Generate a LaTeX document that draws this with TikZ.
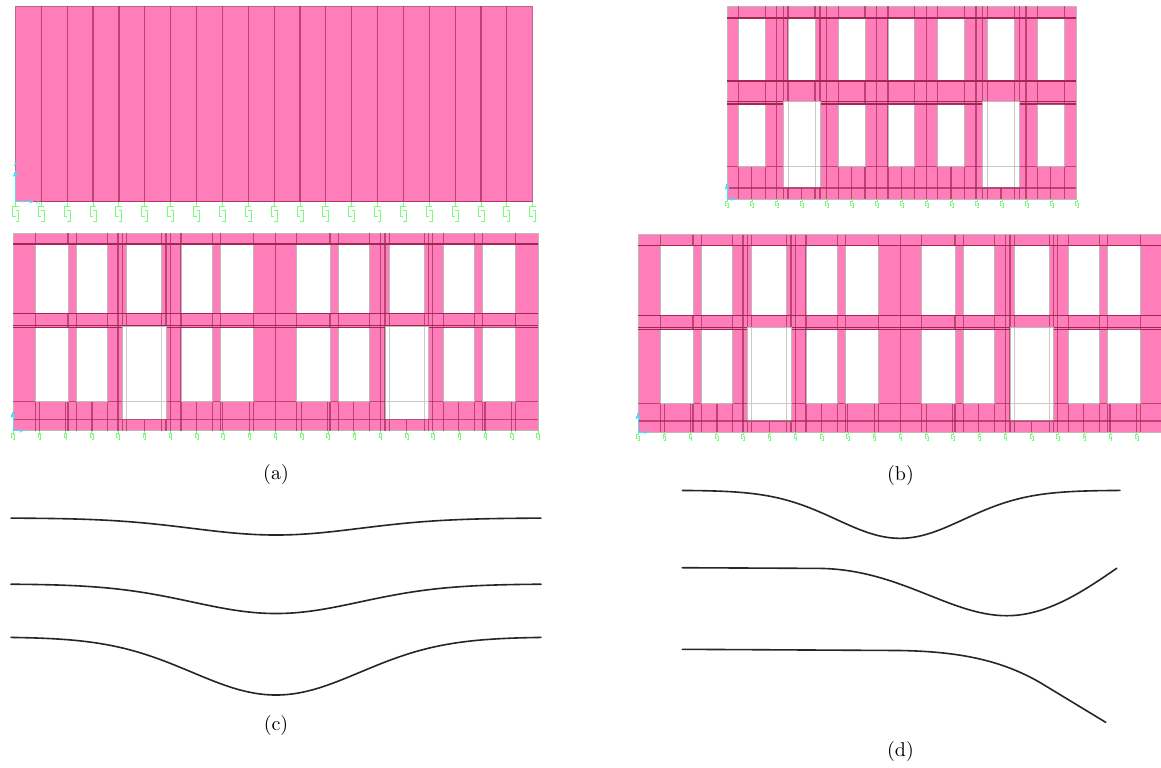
\documentclass[tikz,border=0pt]{standalone}
\usepackage{amsmath,amssymb}
\usetikzlibrary{calc}
\usetikzlibrary{arrows.meta}
\definecolor{wallpink}{RGB}{255,125,184}
\definecolor{gridred}{RGB}{160,40,85}
\definecolor{edgegrey}{RGB}{190,185,185}
\definecolor{springgreen}{RGB}{125,250,125}
\definecolor{axiscyan}{RGB}{85,215,245}
\tikzset{
  wallfill/.style={fill=wallpink,draw=edgegrey,line width=0.5pt},
  gridln/.style={draw=gridred,opacity=0.68,line width=0.6pt},
  openln/.style={draw=edgegrey,fill=white,line width=0.42pt},
  doorln/.style={draw=edgegrey,opacity=0.75,line width=0.5pt},
  springln/.style={draw=springgreen,line width=0.45pt},
  axisln/.style={draw=axiscyan,line width=0.45pt,-{Stealth[length=2.5pt,width=1.8pt]}},
  curveln/.style={draw=black!85,line width=0.8pt,line cap=round},
  caption/.style={inner sep=0pt,font=\normalsize},
  axislabl/.style={inner sep=0pt,text=axiscyan,font=\fontsize{4.5}{5}\selectfont\sffamily}
}
\newcommand{\windowcell}[4]{\draw[openln] ( #1 , #2 ) rectangle ( #3 , #4 );}
\newcommand{\springmark}[3]{\draw[springln,shift={( #1 , #2 )},scale=#3] (0,0) -- (0,5) (3,5) -- (-3,5) -- (-3,15) -- (0,15) (0,9) -- (3,9) -- (3,20) -- (0,20);}
\newcommand{\sagcurve}[4]{\draw[curveln] plot[domain=#1:#2,samples=90,smooth] (\x,{#3+#4*exp(-((\x-276)/119)^2)});}
% long wall, drawn in the place of the lower wall of (a)
\newcommand{\longwall}{
  \draw[wallfill] (13,233) rectangle (538,430.7);
  % full height lines
  \foreach \xx in {35.3,68,76.3,107.3,118,122.7,126.7,161.7,166,170.7,181,212.3,220.7,253.7,275.7,296.7,330,338.7,369.3,380.3,385,389.3,424.3,428.3,432.7,443.3,474.3,482.7,515.7}
    \draw[gridln] (\xx,233) -- (\xx,430.7);
  \draw[gridln] (13,401.7) -- (538,401.7);
  % short lines under the sills
  \foreach \xx in {39.3,65.3,92,196.7,222.7,249.3,301.3,327.7,353.7,458.3,485,511.3}
    \draw[gridln] (\xx,401.7) -- (\xx,430.7);
  \foreach \xx in {144.3,406.3}
    \draw[gridln] (\xx,419.5) -- (\xx,430.7);
  % upper row
  \foreach \xa/\xb in {35.3/68,76.3/107.3,126.7/161.7,181/212.3,220.7/253.7,296.7/330,338.7/369.3,389.3/424.3,443.3/474.3,482.7/515.7}
    \windowcell{\xa}{244}{\xb}{313.7}
  % lower row
  \foreach \xa/\xb in {35.3/68,76.3/107.3,181/212.3,220.7/253.7,296.7/330,338.7/369.3,443.3/474.3,482.7/515.7}
    \windowcell{\xa}{327.7}{\xb}{401.7}
  % floor lines
  \foreach \yy in {244,313.7,325.7,327.7}
    \draw[gridln] (13,\yy) -- (538,\yy);
  % doors
  \windowcell{122.7}{326}{166}{419.5}
  \draw[doorln] (126.7,326) -- (126.7,419.5) (161.7,326) -- (161.7,419.5) (122.7,401.7) -- (166,401.7);
  \windowcell{385}{326}{428.3}{419.5}
  \draw[doorln] (389.3,326) -- (389.3,419.5) (424.3,326) -- (424.3,419.5) (385,401.7) -- (428.3,401.7);
  \draw[gridln] (13,419.5) -- (538,419.5);
  % supports
  \foreach \i in {0,...,20}
    \springmark{13+26.25*\i}{431}{0.42}
  \draw[axisln] (13,430.7) -- (13,412);
  \draw[axisln] (13,430.7) -- (24,430.7);
}
\begin{document}
\begin{tikzpicture}[x=0.5pt,y=-0.5pt]
    \clip (0,0) rectangle (1161,767);
    \fill[white] (0,0) rectangle (1161,767);

    % plain wall
    \draw[wallfill,draw=gridred!70] (15.5,6) rectangle (532.7,201.7);
    \foreach \i in {1,...,19}
      \draw[gridln] (15.5+25.86*\i,6) -- (15.5+25.86*\i,201.7);
    \draw[gridln] (15.5,201.7) -- (532.7,201.7);
    \foreach \i in {0,...,20}
      \springmark{15.5+25.86*\i}{201.7}{1}
    \draw[axisln] (15.5,201.7) -- (15.5,171);
    \draw[axisln] (15.5,201.7) -- (34,201.7);
    \node[axislabl] (axisz) at (15.5,164) {z};
    \node[axislabl] (axisx) at (38,202) {x};

    % wall with openings, left
    \longwall
    % same wall, right
    \begin{scope}[shift={(625,1.5)}]
      \longwall
    \end{scope}

    % short wall
    \draw[wallfill] (727,6) rectangle (1076,199);
    \foreach \xx in {738.5,765.5,776.5,783.5,788,815,820,826.5,838.5,865,876.5,888,914.7,926.5,937.7,964.3,976,982.7,987.3,1014.3,1019.3,1026,1037.3,1064.3}
      \draw[gridln] (\xx,6) -- (\xx,199);
    \draw[gridln] (727,166.3) -- (1076,166.3);
    \foreach \xx in {751.7,851.3,901.3,951,1050.7}
      \draw[gridln] (\xx,166.3) -- (\xx,199);
    \foreach \xx in {801.7,1001}
      \draw[gridln] (\xx,188) -- (\xx,199);
    % upper row
    \foreach \xa/\xb in {738.5/765.5,788/815,838.5/865,888/914.7,937.7/964.3,987.3/1014.3,1037.3/1064.3}
      \windowcell{\xa}{18}{\xb}{81}
    % lower row
    \foreach \xa/\xb in {738.5/765.5,838.5/865,888/914.7,937.7/964.3,1037.3/1064.3}
      \windowcell{\xa}{104}{\xb}{166.3}
    % floor lines
    \foreach \yy in {18,81,101.7,104}
      \draw[gridln] (727,\yy) -- (1076,\yy);
    % doors
    \windowcell{783.5}{101.7}{820}{187.5}
    \draw[doorln] (788,101.7) -- (788,187.5) (815,101.7) -- (815,187.5) (783.5,166.3) -- (820,166.3);
    \windowcell{982.7}{101.7}{1019.3}{187.5}
    \draw[doorln] (987.3,101.7) -- (987.3,187.5) (1014.3,101.7) -- (1014.3,187.5) (982.7,166.3) -- (1019.3,166.3);
    \draw[gridln] (727,188) -- (1076,188);
    \foreach \i in {0,...,14}
      \springmark{727+25*\i}{199.5}{0.4}
    \draw[axisln] (727,199) -- (727,184);
    \draw[axisln] (727,199) -- (736,199);

    % curves for (c)
    \sagcurve{11}{541}{518}{17}
    \sagcurve{11}{541}{584}{29.5}
    \sagcurve{11}{541}{637}{58}

    % curves for (d)
    \draw[curveln] plot[domain=682.3:1120,samples=90,smooth] (\x,{490.3+48*exp(-((\x-900)/90)^2)});
    \draw[curveln] (682.3,567.7) -- (820,568.4) .. controls (900,569.5) and (950,615.7) .. (1006.7,615.7) .. controls (1048,615.7) and (1085,590) .. (1116.7,568.3);
    \draw[curveln] (682.3,649.3) -- (900,650.5) .. controls (960,651.5) and (1002,660.5) .. (1040,682.5) -- (1105.7,722.3);

    % captions
    \node[caption] (capa) at (276,474) {(a)};
    \node[caption] (capb) at (900.5,475) {(b)};
    \node[caption] (capc) at (276,725) {(c)};
    \node[caption] (capd) at (900.5,751) {(d)};
\end{tikzpicture}
\end{document}
